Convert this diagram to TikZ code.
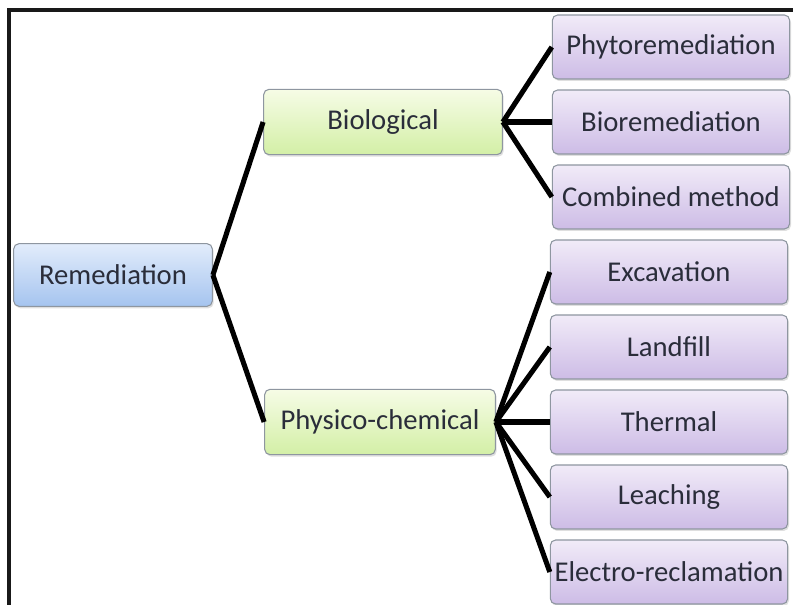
\documentclass[tikz,border=0pt]{standalone}
\usepackage{fontspec}
\setmainfont{Carlito}
\usepackage{tikz}
\usetikzlibrary{shadows}
\definecolor{RootTop}{HTML}{E2ECFB}
\definecolor{RootBot}{HTML}{A5C4EF}
\definecolor{MidTop}{HTML}{F6FCE6}
\definecolor{MidBot}{HTML}{D3EFA6}
\definecolor{LeafTop}{HTML}{F1EBF8}
\definecolor{LeafBot}{HTML}{CDBCE6}
\definecolor{BoxEdge}{HTML}{8E96A0}
\definecolor{InkText}{HTML}{2A2D3A}

\begin{document}
\begin{tikzpicture}[x=0.75pt, y=-0.75pt,
    box/.style={draw=BoxEdge, line width=0.8pt, rounded corners=4pt, text=InkText,
        font=\fontsize{21.5}{25}\selectfont, align=center, inner sep=0pt,
        drop shadow={opacity=0.25, shadow xshift=1pt, shadow yshift=-1.5pt}},
    rootbox/.style={box, top color=RootTop, bottom color=RootBot, minimum width=149pt, minimum height=47pt},
    midbox/.style={box, top color=MidTop, bottom color=MidBot, minimum height=49pt},
    leafbox/.style={box, top color=LeafTop, bottom color=LeafBot, minimum width=178pt, minimum height=48pt},
    branch/.style={draw=black, line width=3.8pt}]
    \useasboundingbox (0,0) rectangle (793,605);

    % 1. Frame (top and left edges only)
    \draw[line width=2.6pt, color=black!90] (9,605) -- (9,10) -- (793,10);

    % 2. Root
    \node[rootbox] (rem) at (113,275) {Remediation};

    % 3. Two families of methods
    \node[midbox, minimum width=179pt] (bio) at (383,122) {Biological};
    \node[midbox, minimum width=173pt] (phys) at (380,422) {Physico-chemical};

    % 4. Biological methods
    \node[leafbox] (phyto) at (671,47) {Phytoremediation};
    \node[leafbox] (biorem) at (671,122) {Bioremediation};
    \node[leafbox] (comb) at (671,197) {Combined method};

    % 5. Physico-chemical methods
    \node[leafbox] (excav) at (669,272) {Excavation};
    \node[leafbox] (landf) at (669,347) {Landfill};
    \node[leafbox] (therm) at (669,422) {Thermal};
    \node[leafbox] (leach) at (669,497) {Leaching};
    \node[leafbox] (electro) at (669,572) {Electro-reclamation};

    % -------------------------------------------------------------
    % BRANCHES
    % -------------------------------------------------------------
    \foreach \kid in {bio, phys}
        \draw[branch] (rem.east) -- (\kid.west);
    \foreach \kid in {phyto, biorem, comb}
        \draw[branch] (bio.east) -- (\kid.west);
    \foreach \kid in {excav, landf, therm, leach, electro}
        \draw[branch] (phys.east) -- (\kid.west);
\end{tikzpicture}
\end{document}
